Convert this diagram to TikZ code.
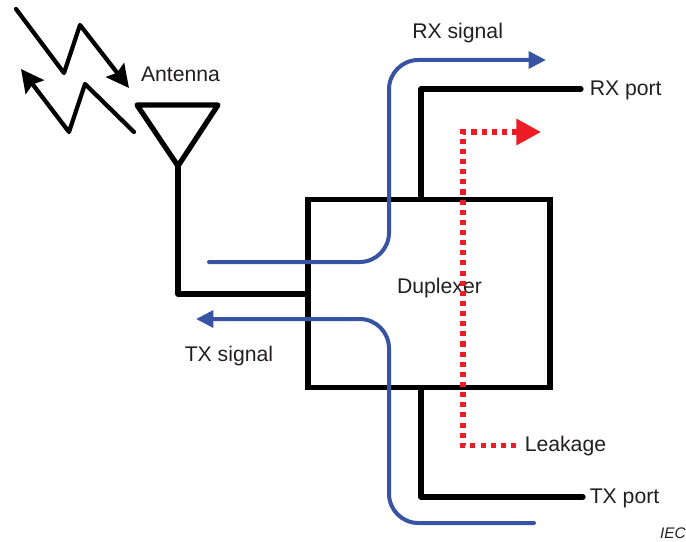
\documentclass[tikz,border=0pt]{standalone}
\usepackage{fontspec}
\setmainfont{Liberation Sans}
\usetikzlibrary{arrows.meta}
\definecolor{sigblue}{HTML}{3953A4}
\definecolor{leakred}{HTML}{ED1C24}
\definecolor{txt}{HTML}{231F20}
\tikzset{
  wire/.style={draw=black,line width=3.9pt,line join=round,line cap=round},
  bolt/.style={draw=black,line width=3.2pt,line join=round,line cap=round,-{Stealth[length=17pt,width=17pt,inset=2.5pt]}},
  sig/.style={draw=sigblue,line width=3pt,line cap=round,rounded corners=22pt},
  sigtip/.style={-{Triangle[length=13pt,width=12.5pt]}},
  leak/.style={draw=leakred,line width=4pt,dash pattern=on 3.8pt off 3.8pt,line join=miter,-{Triangle[length=18.5pt,width=19pt]}},
  lab/.style={font=\fontsize{15.9pt}{18pt}\selectfont,text=txt,inner sep=0pt},
  boxn/.style={draw=black,line width=3.9pt,inner sep=0pt,minimum width=181.5pt,minimum height=140.5pt}
}
\begin{document}
\begin{tikzpicture}[x=0.75pt,y=-0.75pt]
\useasboundingbox (0,0) rectangle (686,542);
% duplexer body
\node[boxn] (dup) at (429,293.5) {};
\node[lab] (duptext) at (439.5,288) {Duplexer};
% free points
\coordinate (apex) at (178,166);
\coordinate (tl) at (137,105);
\coordinate (tr) at (218,105);
\coordinate (stemc) at (178,294);
\coordinate (rxc) at (421,89);
\coordinate (rxe) at (581,89);
\coordinate (txc) at (421,497);
\coordinate (txe) at (583,497);
% antenna and ports
\draw[wire] (tl) -- (tr) -- (apex) -- cycle;
\draw[wire] (apex) -- (stemc) -- (dup.west |- stemc);
\draw[wire] (dup.north -| rxc) -- (rxc) -- (rxe);
\draw[wire] (dup.south -| txc) -- (txc) -- (txe);
% radio waves
\coordinate (a1) at (16,9);
\coordinate (a2) at (64,73);
\coordinate (a3) at (80,25);
\coordinate (a4) at (129,88);
\coordinate (b1) at (134,132);
\coordinate (b2) at (85,84);
\coordinate (b3) at (69,132);
\coordinate (b4) at (21,69);
\draw[bolt] (a1) -- (a2) -- (a3) -- (a4);
\draw[bolt] (b1) -- (b2) -- (b3) -- (b4);
% leakage
\coordinate (l1) at (516,445.5);
\coordinate (l2) at (463,445.5);
\coordinate (l3) at (463,132);
\coordinate (l4) at (541,132);
\draw[leak] (l1) -- (l2) -- (l3) -- (l4);
% signals
\coordinate (r1) at (209,262);
\coordinate (r2) at (389,262);
\coordinate (r3) at (389,60);
\coordinate (r4) at (546,60);
\coordinate (t1) at (534,523);
\coordinate (t2) at (389,523);
\coordinate (t3) at (389,319);
\coordinate (t4) at (196,319);
\draw[sig,sigtip] (r1) -- (r2) -- (r3) -- (r4);
\draw[sig,sigtip] (t1) -- (t2) -- (t3) -- (t4);
% labels
\node[lab] (antenna) at (180.5,74) {Antenna};
\node[lab,anchor=west] (rxsig) at (412,33) {RX signal};
\node[lab,anchor=west] (rxport) at (589.5,90) {RX port};
\node[lab,anchor=west] (txsig) at (184.5,356) {TX signal};
\node[lab,anchor=west] (leaklab) at (524.5,446) {Leakage};
\node[lab,anchor=west] (txport) at (589.5,498) {TX port};
\node[font=\fontsize{11.5pt}{13pt}\selectfont\itshape,text=txt,inner sep=0pt,anchor=east] (iec) at (686,533) {IEC};
\end{tikzpicture}
\end{document}
